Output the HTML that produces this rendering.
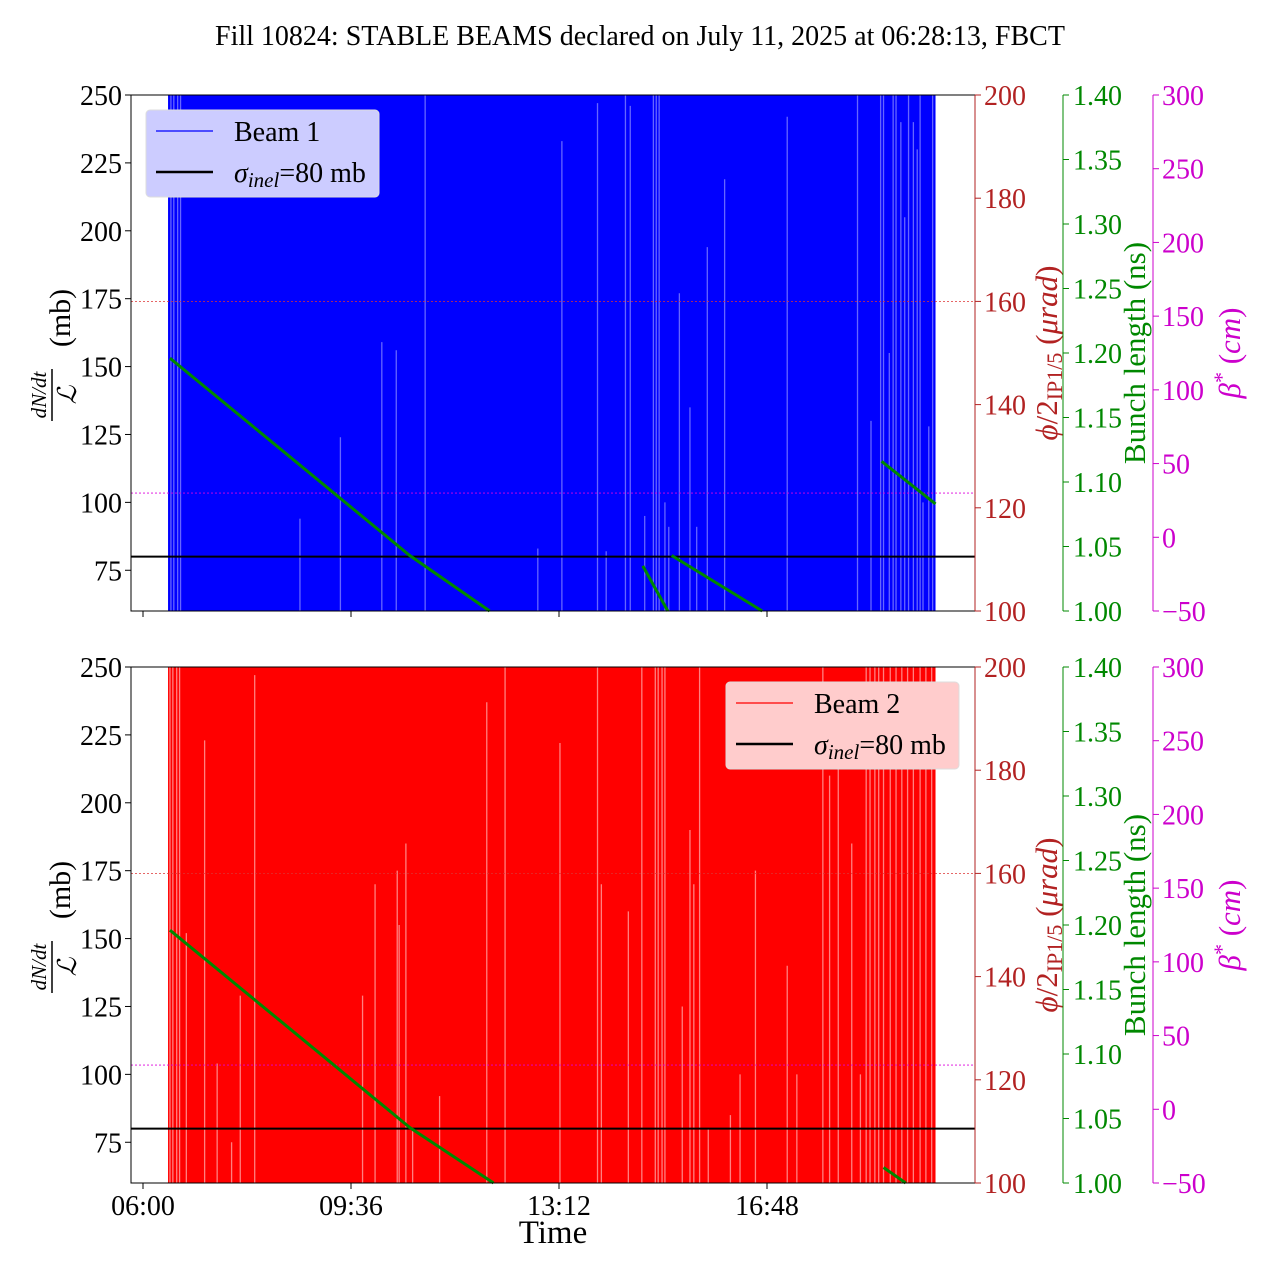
<!DOCTYPE html>
<html><head><meta charset="utf-8"><style>
body{margin:0;background:#fff}
svg{font-family:"Liberation Serif",serif}
</style></head><body>
<svg id="c" width="1280" height="1280" xmlns="http://www.w3.org/2000/svg">
<text x="640" y="45" font-size="28" text-anchor="middle">Fill 10824: STABLE BEAMS declared on July 11, 2025 at 06:28:13, FBCT</text>
</svg>
<script>
// minutes since 06:00
const dataStart = 26, dataEnd = 823;
const xTickLabels = ["06:00","09:36","13:12","16:48"];
const xTickMinutes = [0,216,432,648];
const yTicks = [75,100,125,150,175,200,225,250];
const redTicks = [100,120,140,160,180,200];
const greenTicks = [1.00,1.05,1.10,1.15,1.20,1.25,1.30,1.35,1.40];
const magTicks = [-50,0,50,100,150,200,250,300];
const sigmaInel = 80;
const crossingRef = 160;
const betaRef = 30;
const b1GapTimes = [29,32,36,39,163,205,248,263,293,410,435,472,481,501,506,521,530,533,536,542,546,557,568,575,586,604,669,742,756,766,769,775,779,782,787,791,795,800,804,807,810,816,820];
const b1GapTops = [250,250,250,250,94,124,159,156,250,83,233,247,82,250,246,95,250,250,250,100,91,177,135,91,194,219,242,250,130,250,250,155,250,250,240,205,250,240,230,250,100,128,250];
const b2GapTimes = [28,31,35,38,45,64,77,92,101,116,228,241,264,266,273,280,308,357,376,433,472,476,504,518,532,535,539,542,560,568,572,578,587,610,620,636,669,679,706,713,722,736,745,751,755,760,764,769,776,782,788,794,800,807,813,819];
const b2GapTops = [250,250,250,250,152,223,104,75,129,247,129,170,175,155,185,80,92,237,250,222,250,170,160,250,250,250,250,250,125,190,170,250,80,85,100,175,140,100,250,210,225,185,100,250,250,250,250,250,250,250,250,250,250,250,250,250];
const b1BunchSegs = [[[28,1.196],[142,1.126],[277,1.043],[360,1.0]],[[519,1.035],[545,1.0]],[[549,1.043],[643,1.0]],[[767,1.116],[823,1.083]]];
const b2BunchSegs = [[[28,1.196],[142,1.126],[277,1.043],[364,1.0]],[[769,1.012],[792,1.0]]];

const NS="http://www.w3.org/2000/svg", svg=document.getElementById('c');
function el(t,a,p){const e=document.createElementNS(NS,t);for(const k in a)e.setAttribute(k,a[k]);(p||svg).appendChild(e);return e;}
const X0=131,X1=975;
const xs=m=>143+m*208/216;

function panel(top,bottom,color,light,gt,gtops,segs,legendX,legendFill,label,name,showX){
  const g=el('g',{});
  
  
  const ys=v=>bottom-(v-60)*(bottom-top)/190;
  const rs=v=>bottom-(v-100)*(bottom-top)/100;
  const gs=v=>bottom-(v-1.0)*(bottom-top)/0.4;
  const ms=v=>bottom-(v+50)*(bottom-top)/350;
  const cy=(top+bottom)/2;
  const area=el('rect',{x:xs(dataStart),y:top,width:xs(dataEnd)-xs(dataStart),height:bottom-top,fill:color},g);
  
  
  for(let i=0;i<gt.length;i++){
    const l=el('line',{x1:xs(gt[i]),x2:xs(gt[i]),y1:bottom,y2:ys(gtops[i]),stroke:light,'stroke-width':1.3},g);
    
    
  }
  el('line',{x1:X0,x2:X1,y1:rs(crossingRef),y2:rs(crossingRef),stroke:'#d33','stroke-width':0.8,'stroke-dasharray':'2,2'},g);
  el('line',{x1:X0,x2:X1,y1:ms(betaRef),y2:ms(betaRef),stroke:'#d0d','stroke-width':0.8,'stroke-dasharray':'2,2'},g);
  const sl=el('line',{x1:X0,x2:X1,y1:ys(sigmaInel),y2:ys(sigmaInel),stroke:'#000','stroke-width':2},g);
  
  
  segs.forEach(s=>{
    const p=el('polyline',{points:s.map(q=>xs(q[0])+','+gs(q[1])).join(' '),fill:'none',stroke:'#080','stroke-width':3},g);
    
    
  });
  el('rect',{x:X0,y:top,width:X1-X0,height:bottom-top,fill:'none',stroke:'#000','stroke-width':1},g);
  // left axis
  yTicks.forEach(v=>{const y=ys(v);el('line',{x1:X0-6,x2:X0,y1:y,y2:y,stroke:'#000'},g);
    const t=el('text',{x:X0-9,y:y+10,'font-size':28,'text-anchor':'end'},g);t.textContent=v;});
  const yg=el('g',{transform:`translate(0,${cy}) rotate(-90)`},g);
  
  
  const n=el('text',{x:-42,y:46,'font-size':21,'font-style':'italic','text-anchor':'middle'},yg);n.textContent='dN/dt';
  el('line',{x1:-68,x2:-16,y1:52,y2:52,stroke:'#000','stroke-width':1.5},yg);
  const d=el('text',{x:-42,y:76,'font-size':26,'font-style':'italic','text-anchor':'middle'},yg);d.textContent='ℒ';
  const mb=el('text',{x:35,y:70,'font-size':30,'text-anchor':'middle'},yg);mb.textContent='(mb)';
  // red
  el('line',{x1:X1,x2:X1,y1:top,y2:bottom,stroke:'#b22222'},g);
  redTicks.forEach(v=>{const y=rs(v);el('line',{x1:X1,x2:X1+6,y1:y,y2:y,stroke:'#b22222'},g);
    const t=el('text',{x:X1+9,y:y+10,'font-size':28,fill:'#b22222'},g);t.textContent=v;});
  const rl=el('text',{transform:`translate(1057,${cy}) rotate(-90)`,'font-size':31,'text-anchor':'middle',fill:'#b22222'},g);
  rl.innerHTML='<tspan font-style="italic">ϕ</tspan>/2<tspan font-size="22" dy="5">IP1/5</tspan><tspan dy="-5"> (</tspan><tspan font-style="italic">μrad</tspan>)';
  
  
  // green
  el('line',{x1:1063,x2:1063,y1:top,y2:bottom,stroke:'#080'},g);
  greenTicks.forEach(v=>{const y=gs(v);el('line',{x1:1063,x2:1069,y1:y,y2:y,stroke:'#080'},g);
    const t=el('text',{x:1073,y:y+10,'font-size':28,fill:'#080'},g);t.textContent=v.toFixed(2);});
  const gl=el('text',{transform:`translate(1145,${cy}) rotate(-90)`,'font-size':31,'text-anchor':'middle',fill:'#080'},g);
  gl.textContent='Bunch length (ns)';
  
  
  // magenta
  el('line',{x1:1153,x2:1153,y1:top,y2:bottom,stroke:'#c0c'},g);
  magTicks.forEach(v=>{const y=ms(v);el('line',{x1:1153,x2:1159,y1:y,y2:y,stroke:'#c0c'},g);
    const t=el('text',{x:1162,y:y+10,'font-size':28,fill:'#c0c'},g);t.textContent=v<0?'−'+(-v):v;});
  const ml=el('text',{transform:`translate(1240,${cy}) rotate(-90)`,'font-size':31,'text-anchor':'middle',fill:'#c0c'},g);
  ml.innerHTML='<tspan font-style="italic">β</tspan><tspan font-size="22" dy="-11">*</tspan><tspan dy="11"> (</tspan><tspan font-style="italic">cm</tspan>)';
  
  
  // x ticks
  xTickMinutes.forEach((m,i)=>{el('line',{x1:xs(m),x2:xs(m),y1:bottom,y2:bottom+6,stroke:'#000'},g);
    if(showX){const t=el('text',{x:xs(m),y:bottom+32,'font-size':28,'text-anchor':'middle'},g);t.textContent=xTickLabels[i];}});
  // legend
  const lg=el('g',{},g);
  
  
  const ly=top+15;
  el('rect',{x:legendX,y:ly,width:233,height:87,rx:4,fill:legendFill,stroke:'#ddd'},lg);
  el('line',{x1:legendX+10,x2:legendX+67,y1:ly+21,y2:ly+21,stroke:color,'stroke-width':1.2},lg);
  const t1=el('text',{x:legendX+88,y:ly+31,'font-size':28},lg);t1.textContent=label;
  el('line',{x1:legendX+10,x2:legendX+67,y1:ly+62,y2:ly+62,stroke:'#000','stroke-width':2.5},lg);
  const t2=el('text',{x:legendX+88,y:ly+72,'font-size':28},lg);
  t2.innerHTML='<tspan font-style="italic">σ</tspan><tspan font-style="italic" font-size="21" dy="5">inel</tspan><tspan dy="-5">=80 mb</tspan>';
}
panel(95,611,'#0000ff','rgba(255,255,255,0.4)',b1GapTimes,b1GapTops,b1BunchSegs,146,'#ccccff','Beam 1','beam1-panel',false);
panel(667,1183,'#ff0000','rgba(255,255,255,0.5)',b2GapTimes,b2GapTops,b2BunchSegs,726,'#ffcccc','Beam 2','beam2-panel',true);
const xt=el('text',{x:553,y:1243,'font-size':33,'text-anchor':'middle'});
xt.textContent='Time';


</script>
</body></html>
